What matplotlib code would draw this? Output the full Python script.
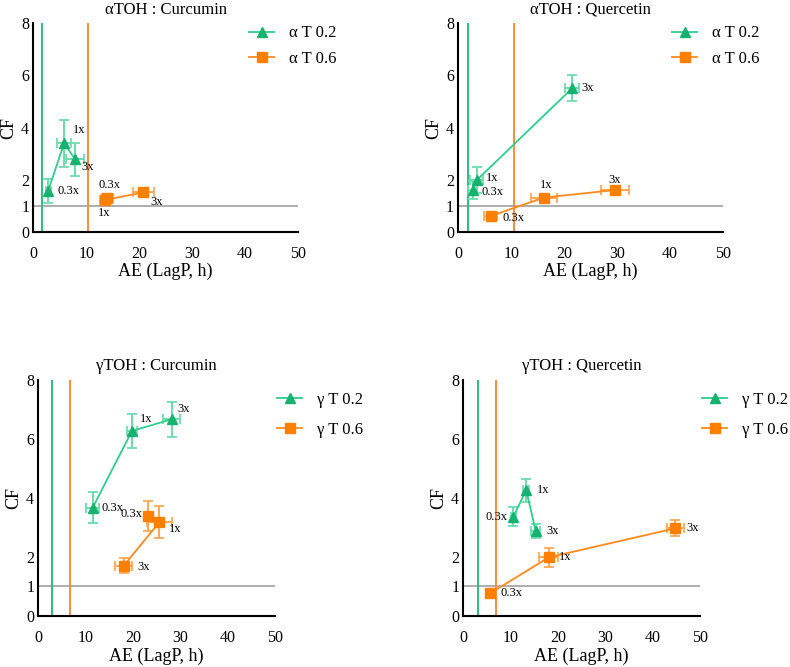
import matplotlib
matplotlib.use('Agg')
import matplotlib.pyplot as plt

plt.rcParams['font.family'] = ['Liberation Serif', 'DejaVu Serif']

# ---- data ----
dose_labels = ['0.3x', '1x', '3x']

# alpha TOH : Curcumin
aC_t02_x = [2.8, 5.8, 7.9]
aC_t02_xerr = [0.5, 1.3, 1.7]
aC_t02_y = [1.57, 3.39, 2.78]
aC_t02_yerr = [0.47, 0.89, 0.63]
aC_t06_x = [14.0, 13.5, 20.8]
aC_t06_xerr = [1.0, 1.0, 1.9]
aC_t06_y = [1.30, 1.22, 1.51]
aC_t06_yerr = [0.08, 0.08, 0.08]
aC_vlines = [1.6, 10.4]

# alpha TOH : Quercetin
aQ_t02_x = [2.7, 3.5, 21.5]
aQ_t02_xerr = [0.8, 1.2, 1.3]
aQ_t02_y = [1.60, 1.98, 5.50]
aQ_t02_yerr = [0.35, 0.50, 0.50]
aQ_t06_x = [6.1, 16.2, 29.6]
aQ_t06_xerr = [1.2, 2.5, 2.7]
aQ_t06_y = [0.60, 1.31, 1.60]
aQ_t06_yerr = [0.08, 0.10, 0.08]
aQ_vlines = [1.8, 10.5]

# gamma TOH : Curcumin
gC_t02_x = [11.5, 19.8, 28.2]
gC_t02_xerr = [1.4, 1.0, 1.8]
gC_t02_y = [3.67, 6.27, 6.67]
gC_t02_yerr = [0.53, 0.59, 0.59]
gC_t06_x = [23.3, 25.6, 18.1]
gC_t06_xerr = [0.8, 2.6, 1.8]
gC_t06_y = [3.39, 3.18, 1.71]
gC_t06_yerr = [0.52, 0.55, 0.24]
gC_vlines = [3.0, 6.8]

# gamma TOH : Quercetin
gQ_t02_x = [10.6, 13.3, 15.3]
gQ_t02_xerr = [0.6, 0.6, 1.0]
gQ_t02_y = [3.37, 4.27, 2.88]
gQ_t02_yerr = [0.33, 0.39, 0.25]
gQ_t06_x = [5.7, 18.1, 44.8]
gQ_t06_xerr = [0.5, 2.0, 1.8]
gQ_t06_y = [0.77, 1.99, 2.97]
gQ_t06_yerr = [0.06, 0.33, 0.27]
gQ_vlines = [3.0, 6.9]

x_ticks = [0, 10, 20, 30, 40, 50]
y_ticks = [0, 1, 2, 4, 6, 8]

GREEN_MK = '#17b26f'
GREEN_LN = '#2ccf8c'
GREEN_ERR = '#6fdcae'
ORANGE_MK = '#ff8000'
ORANGE_LN = '#ff8a1c'
ORANGE_ERR = '#ffa957'


def draw_panel(ax, title, s1, s2, vlines, leg_labels, offs1, offs2, leg_anchor, leg_spacing):
    ax.axhline(1, color='#a0a0a0', lw=1.2, zorder=1)
    ax.axvline(vlines[0], color='#2dbd7f', lw=1.4, zorder=1)
    ax.axvline(vlines[1], color='#ff8a3a', lw=1.4, zorder=1)

    for (x, xe, y, ye), ln, er, m, lab, offs in [
            (s1, GREEN_LN, GREEN_ERR, '^', leg_labels[0], offs1),
            (s2, ORANGE_LN, ORANGE_ERR, 's', leg_labels[1], offs2)]:
        mcol = GREEN_MK if m == '^' else ORANGE_MK
        ms = 7 if m == '^' else 7.5
        ax.errorbar(x, y, xerr=xe, yerr=ye, fmt='none', ecolor=er, elinewidth=1.5,
                    capsize=3.5, capthick=1.3, zorder=2)
        ax.plot(x, y, color=ln, lw=1.3, marker=m, ms=ms, mfc=mcol, mec=mcol,
                label=lab, zorder=3)
        for xi, yi, txt, (dx, dy, ha) in zip(x, y, dose_labels, offs):
            ax.annotate(txt, (xi, yi), xytext=(dx, -dy), textcoords='offset pixels',
                        ha=ha, va='center', fontsize=9, zorder=4)

    ax.set_xlim(0, 50)
    ax.set_ylim(0, 8)
    ax.set_xticks(x_ticks)
    ax.set_yticks(y_ticks)
    for s in ['top', 'right']:
        ax.spines[s].set_visible(False)
    for s in ['left', 'bottom']:
        ax.spines[s].set_linewidth(1.5)
    ax.tick_params(axis='x', length=0, pad=10, labelsize=11.5)
    ax.tick_params(axis='y', length=0, pad=3, labelsize=11.5)
    ax.set_xlabel('AE (LagP, h)', fontsize=13, labelpad=1)
    ax.set_ylabel('CF', fontsize=13, labelpad=3)
    ax.set_title(title, fontsize=12, pad=7)
    ax.legend(loc='upper left', bbox_to_anchor=leg_anchor, frameon=False,
              fontsize=12, handlelength=1.5, handletextpad=0.9,
              labelspacing=leg_spacing, borderpad=0, borderaxespad=0)


fig = plt.figure(figsize=(7.9, 6.67), dpi=100)
ax1 = fig.add_axes([0.0422, 0.6526, 0.3352, 0.3124])
ax2 = fig.add_axes([0.5801, 0.6526, 0.3347, 0.3124])
ax3 = fig.add_axes([0.0485, 0.0765, 0.2992, 0.3538])
ax4 = fig.add_axes([0.5865, 0.0765, 0.2992, 0.3538])

draw_panel(ax1, 'αTOH : Curcumin',
           (aC_t02_x, aC_t02_xerr, aC_t02_y, aC_t02_yerr),
           (aC_t06_x, aC_t06_xerr, aC_t06_y, aC_t06_yerr),
           aC_vlines, ['α T 0.2', 'α T 0.6'],
           [(9, 0, 'left'), (9, -13, 'left'), (6, 8, 'left')],
           [(-9, -13, 'left'), (-7, 13, 'left'), (7, 10, 'left')],
           (0.815, 0.99), 0.55)
draw_panel(ax2, 'αTOH : Quercetin',
           (aQ_t02_x, aQ_t02_xerr, aQ_t02_y, aQ_t02_yerr),
           (aQ_t06_x, aQ_t06_xerr, aQ_t06_y, aQ_t06_yerr),
           aQ_vlines, ['α T 0.2', 'α T 0.6'],
           [(9, 2, 'left'), (9, -2, 'left'), (9, 0, 'left')],
           [(12, 2, 'left'), (-4, -13, 'left'), (-6, -10, 'left')],
           (0.81, 0.99), 0.55)
draw_panel(ax3, 'γTOH : Curcumin',
           (gC_t02_x, gC_t02_xerr, gC_t02_y, gC_t02_yerr),
           (gC_t06_x, gC_t06_xerr, gC_t06_y, gC_t06_yerr),
           gC_vlines, ['γ T 0.2', 'γ T 0.6'],
           [(9, 0, 'left'), (8, -12, 'left'), (6, -10, 'left')],
           [(-6, -2, 'right'), (10, 7, 'left'), (13, 1, 'left')],
           (1.01, 0.95), 0.85)
draw_panel(ax4, 'γTOH : Quercetin',
           (gQ_t02_x, gQ_t02_xerr, gQ_t02_y, gQ_t02_yerr),
           (gQ_t06_x, gQ_t06_xerr, gQ_t06_y, gQ_t06_yerr),
           gQ_vlines, ['γ T 0.2', 'γ T 0.6'],
           [(-6, 0, 'right'), (11, 0, 'left'), (11, 0, 'left')],
           [(10, 0, 'left'), (10, 0, 'left'), (11, 0, 'left')],
           (1.01, 0.95), 0.85)

fig.savefig('out.png', dpi=100, facecolor='white')
